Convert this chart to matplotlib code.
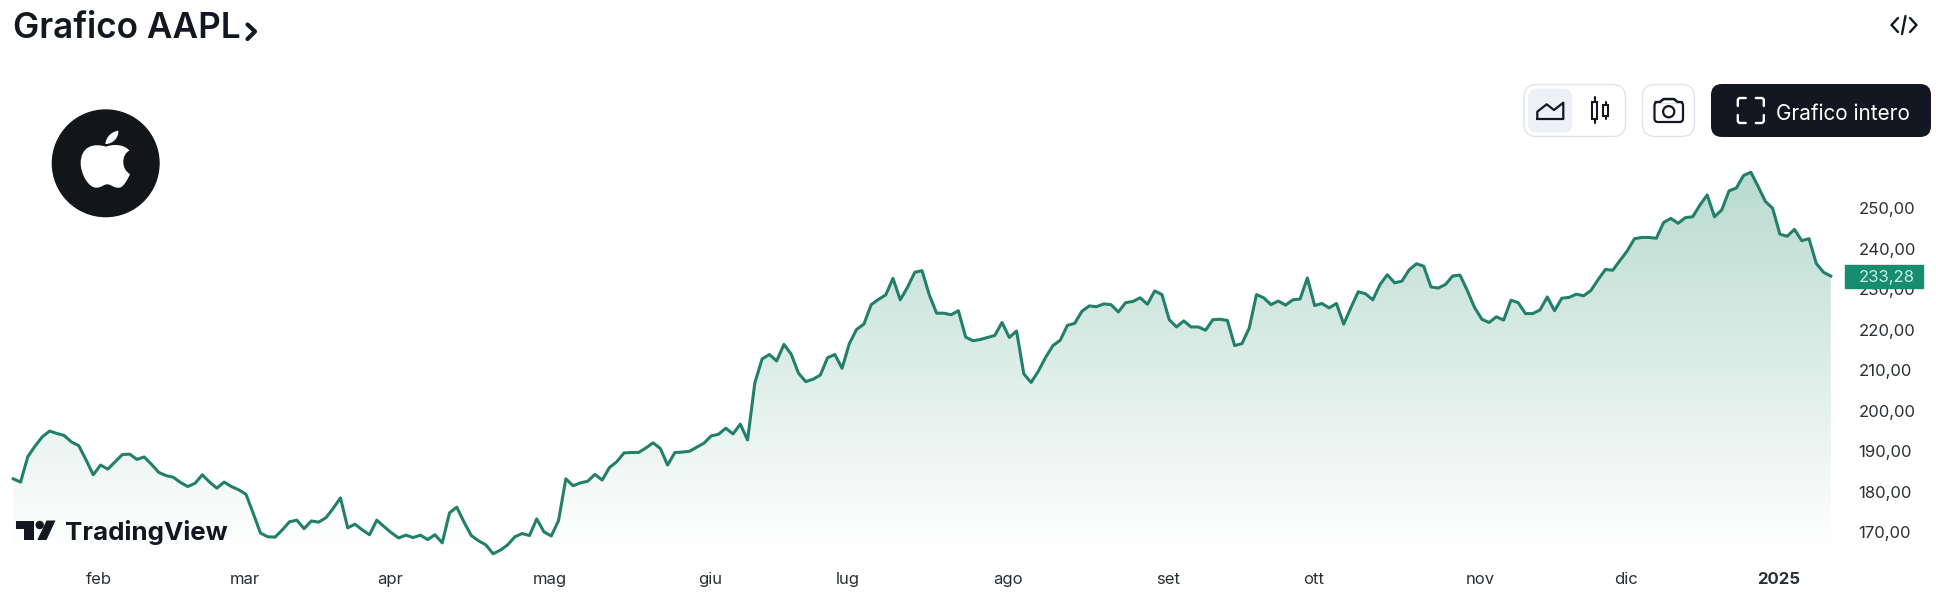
import numpy as np
import matplotlib
matplotlib.use('Agg')
import matplotlib.pyplot as plt
from matplotlib.patches import Circle, FancyBboxPatch, PathPatch, Polygon, Rectangle
from matplotlib.path import Path

plt.rcParams['font.family'] = ['Inter', 'DejaVu Sans']

# cours de cloture
prix_hiver = [183.2, 182.4, 188.7, 191.3, 193.6, 195.0, 194.4, 193.9, 192.3, 191.4, 187.9, 184.2, 186.6, 185.6, 187.4, 189.2, 189.3,
              188.0, 188.6, 186.8, 184.8, 184.0, 183.6, 182.3, 181.3, 182.1, 184.2, 182.4, 180.9, 182.4, 181.3, 180.5, 179.4, 174.7,
              169.8, 168.9, 168.8, 170.6, 172.6, 173.0, 170.9, 172.8, 172.5, 173.6, 175.9, 178.5, 171.1, 172.0, 170.6, 169.4, 173.0,
              171.4, 169.9, 168.6, 169.3, 168.7, 169.3, 168.2, 169.4, 167.4, 174.8, 176.2, 172.5, 169.2, 167.9, 166.9, 164.7, 165.6]
prix_printemps = [166.9, 168.9, 169.7, 169.2, 173.3, 170.1, 169.1, 172.9, 183.2, 181.5, 182.2, 182.6, 184.3, 182.9, 186.0, 187.4, 189.6,
                  189.7, 189.7, 190.8, 192.1, 190.7, 186.6, 189.7, 189.8, 190.0, 191.0, 192.0, 193.8, 194.2, 195.7, 194.3, 196.7, 192.8,
                  206.9, 212.8, 213.9, 212.3, 216.4, 214.0, 209.3, 207.2, 207.8, 208.8, 213.1, 213.9, 210.5, 216.6, 220.1, 221.4, 226.2,
                  227.5, 228.6, 232.7, 227.4, 230.5, 234.2, 234.6, 228.6, 224.1, 224.1, 223.7, 224.7, 218.2, 217.3, 217.6, 218.1, 218.6]
prix_ete = [221.8, 218.1, 219.7, 209.1, 207.0, 209.8, 213.2, 216.1, 217.4, 221.1, 221.6, 224.6, 225.9, 225.7, 226.4, 226.2, 224.4,
            226.7, 227.0, 227.9, 226.3, 229.6, 228.7, 222.5, 220.7, 222.2, 220.7, 220.7, 219.9, 222.5, 222.6, 222.3, 216.1, 216.6,
            220.4, 228.7, 227.9, 226.2, 227.1, 226.1, 227.4, 227.6, 232.8, 226.0, 226.5, 225.4, 226.5, 221.4, 225.5, 229.4, 228.9,
            227.4, 231.2, 233.6, 231.6, 232.0, 234.8, 236.3, 235.7, 230.6, 230.3, 231.2, 233.3, 233.5, 229.7, 225.5]
prix_automne = [222.6, 221.8, 223.2, 222.4, 227.3, 226.7, 224.0, 224.0, 224.9, 228.1, 224.7, 227.8, 228.0, 228.8, 228.4, 229.7, 232.4,
                234.9, 234.7, 237.1, 239.5, 242.5, 242.8, 242.8, 242.6, 246.5, 247.5, 246.3, 247.7, 247.9, 250.8, 253.3, 247.9, 249.6,
                254.3, 255.0, 258.1, 258.9, 255.4, 251.7, 250.0, 243.6, 243.1, 244.8, 242.0, 242.5, 236.4, 234.2, 233.28]
prix = prix_hiver + prix_printemps + prix_ete + prix_automne

niveaux = [170, 180, 190, 200, 210, 220, 230, 240, 250]
mois_pos = [12, 32, 52, 74, 96, 115, 137, 159, 179, 202, 222, 243]
mois_noms = ['feb', 'mar', 'apr', 'mag', 'giu', 'lug', 'ago', 'set', 'ott', 'nov', 'dic', '2025']

W, H = 1936, 594
COL_LIGNE = '#22806a'
COL_TEXTE = '#131722'

fig = plt.figure(figsize=(W / 100, H / 100), dpi=100, facecolor='white')

# zone du graphique : x 13-1831 px, y 130-550 px
ax = fig.add_axes([13.3 / W, (H - 550) / H, 1817.5 / W, 420 / H])
x = np.arange(len(prix))
ax.set_xlim(0, len(prix) - 1)
ax.set_ylim(165.63, 269.33)

# degrade sous la courbe
haut = np.array([0xb9, 0xdb, 0xd0]) / 255
bas = np.array([1.0, 1.0, 1.0])
t = np.linspace(0, 1, 256)[:, None]
grad = (haut * (1 - t) + bas * t)[:, None, :]
im = ax.imshow(grad, extent=(0, len(prix) - 1, 165.63, max(prix)), aspect='auto', origin='upper', zorder=1)
contour = ax.fill_between(x, prix, 165.63, color='none')
im.set_clip_path(contour.get_paths()[0], transform=ax.transData)
ax.set_ylim(165.63, 269.33)

ax.plot(x, prix, color=COL_LIGNE, lw=2.2, zorder=2, solid_joinstyle='round', clip_on=False)

for s in ax.spines.values():
    s.set_visible(False)
ax.patch.set_alpha(0)
ax.yaxis.tick_right()
ax.set_yticks(niveaux)
ax.set_yticklabels([f'{v},00' for v in niveaux], fontsize=12, color='#2a2e39', ha='left')
ax.tick_params(axis='y', length=0, pad=20)
ax.set_xticks(np.array(mois_pos) - 0.2)
ax.set_xticklabels(mois_noms, fontsize=12, color='#2a2e39')
ax.tick_params(axis='x', length=0, pad=16)
ax.get_xticklabels()[-1].set_fontweight('bold')

# etiquette du dernier cours
dernier = prix[-1]
trans = ax.get_yaxis_transform()
ax.add_patch(Rectangle((1.00776, dernier - 2.84), 0.0429, 5.68, transform=trans, clip_on=False, color='#178c6e', zorder=5))
ax.text(1.0152, dernier, f'{dernier:.2f}'.replace('.', ','), transform=trans, fontsize=12, color='#c5f0e2',
        va='center_baseline', ha='left', zorder=6, clip_on=False)

# habillage de la page, en pixels
ui = fig.add_axes([0, 0, 1, 1], zorder=10)
ui.set_xlim(0, W)
ui.set_ylim(H, 0)
ui.axis('off')


def arrondi(x0, y0, x1, y1, r, fc, ec='none', lw=1.0):
    ui.add_patch(FancyBboxPatch((x0 + r, y0 + r), x1 - x0 - 2 * r, y1 - y0 - 2 * r, boxstyle=f'round,pad={r}',
                                fc=fc, ec=ec, lw=lw, zorder=1))


def trait(xs, ys, color=COL_TEXTE, lw=1.6):
    ui.plot(xs, ys, color=color, lw=lw, solid_capstyle='round', solid_joinstyle='round', zorder=2)


def coin(x0, y0, sx, sy):
    # un angle arrondi de l'icone plein ecran
    p = Path([(x0, y0 + 8 * sy), (x0, y0 + 2.5 * sy), (x0, y0), (x0 + 2.5 * sx, y0), (x0 + 8 * sx, y0)],
             [Path.MOVETO, Path.LINETO, Path.CURVE3, Path.CURVE3, Path.LINETO])
    ui.add_patch(PathPatch(p, fc='none', ec='white', lw=1.7, capstyle='round', zorder=2))


ui.text(13, 38, 'Grafico AAPL', fontsize=25.3, fontweight='semibold', color=COL_TEXTE, va='baseline')
trait([247.5, 255, 247.5], [24.5, 31.5, 39], lw=3)

# logo Apple
ui.add_patch(Circle((105.7, 163.3), 53.3, color='#131618'))
pts = [(318, 440), (280, 428), (242, 440), (242, 490), (242, 520), (265, 565), (290, 563), (305, 563), (310, 553), (322, 553),
       (335, 553), (340, 565), (358, 563), (370, 563), (385, 535), (390, 522), (365, 510), (362, 465), (388, 452),
       (375, 435), (345, 430), (318, 440)]
codes = [Path.MOVETO] + [Path.CURVE4] * 21
feuille = [(316, 432), (318, 410), (335, 395), (355, 392), (356, 412), (340, 432), (316, 432)]
codes += [Path.MOVETO] + [Path.CURVE4] * 6
ui.add_patch(PathPatch(Path([(a / 3, b / 3) for a, b in pts + feuille], codes), fc='white', ec='none'))

# logo TradingView
ui.add_patch(Polygon([(16, 520.5), (33.5, 520.5), (33.5, 540), (24, 540), (24, 529), (16, 529)], color=COL_TEXTE, lw=0))
ui.add_patch(Circle((39.7, 525), 4.2, color=COL_TEXTE, lw=0))
ui.add_patch(Polygon([(46.5, 520.5), (55.5, 520.5), (46.5, 540), (37.3, 540)], color=COL_TEXTE, lw=0))
ui.text(65, 540, 'TradingView', fontsize=18.7, fontweight='bold', color=COL_TEXTE, va='baseline')

# boutons
arrondi(1524, 84.5, 1625.5, 136.5, 13, 'white', '#e0e3eb')
arrondi(1528, 88.5, 1572.5, 132.5, 9, '#eef0f8')
arrondi(1642.5, 84.5, 1694.5, 136.5, 13, 'white', '#e0e3eb')
arrondi(1711, 84, 1931, 137, 11, '#131722')
ui.text(1775.5, 111.5, 'Grafico intero', fontsize=14.9, color='white', va='center_baseline')

# icone aire
trait([1537.3, 1537.3, 1546.7, 1554, 1563.3, 1563.3, 1537.3], [119, 111.7, 104.3, 110, 102.7, 119, 119])

# icone bougies
trait([1594.5, 1594.5], [97.3, 123.3], lw=1.5)
ui.add_patch(Rectangle((1591.7, 101.7), 5.6, 17.6, fc='white', ec=COL_TEXTE, lw=1.5, zorder=3))
trait([1605.5, 1605.5], [101.7, 119.3], lw=1.5)
ui.add_patch(Rectangle((1602.7, 105), 5.6, 10.7, fc='white', ec=COL_TEXTE, lw=1.5, zorder=3))

# icone appareil photo
trait([1660, 1663.5, 1674, 1677.5], [102, 99, 99, 102])
arrondi(1654.5, 102, 1683, 122, 3.5, 'white', COL_TEXTE, 1.6)
ui.add_patch(Rectangle((1660, 101), 18, 2, fc='white', ec='none', zorder=1.5))
trait([1655.5, 1660, 1663.5, 1674, 1677.5, 1682], [102, 102, 99, 99, 102, 102])
ui.add_patch(Circle((1668.7, 111.7), 5.6, fc='white', ec=COL_TEXTE, lw=1.6, zorder=3))

# icone plein ecran
coin(1737.8, 98, 1, 1)
coin(1763.8, 98, -1, 1)
coin(1737.8, 123, 1, -1)
coin(1763.8, 123, -1, -1)

# icone code
trait([1898, 1891.5, 1898], [18, 25, 32], lw=1.7)
trait([1910, 1916.5, 1910], [18, 25, 32], lw=1.7)
trait([1905.5, 1902], [16, 34], lw=1.7)

fig.savefig('out.png', dpi=100, facecolor='white')
